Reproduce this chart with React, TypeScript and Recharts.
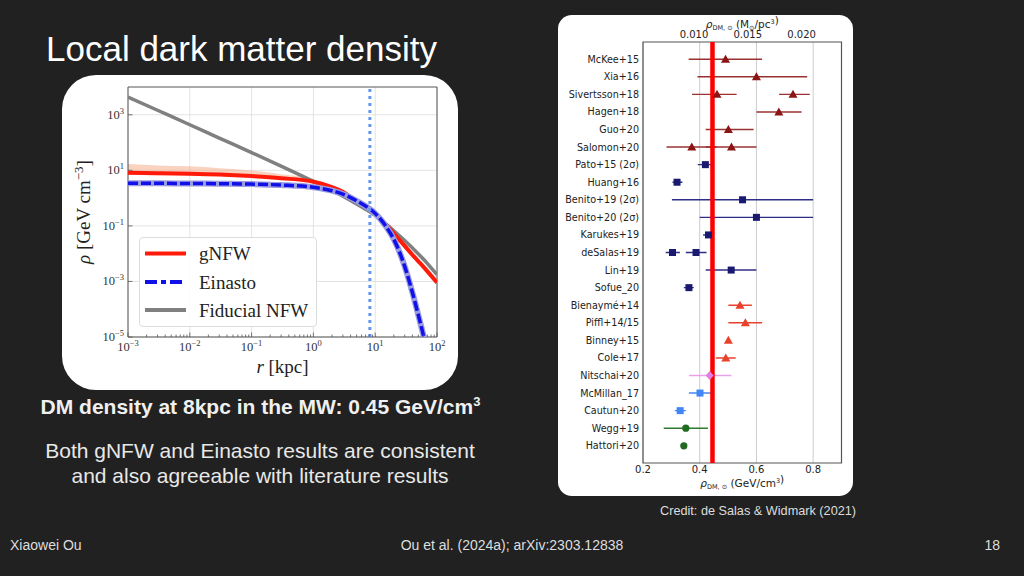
import React from 'react';
import {
  ComposedChart, Line, Area, XAxis, YAxis, CartesianGrid, ReferenceLine, ReferenceArea,
  ScatterChart, Scatter, ErrorBar,
} from 'recharts';

// left panel: density profiles, r in kpc, rho in GeV/cm^3
const radii = [0.001, 0.003, 0.01, 0.03, 0.1, 0.3, 1, 2, 3, 5, 8, 10, 15, 20, 30, 40, 50, 60, 70, 100];
const gnfwDensity = [8.2, 7.9, 7.6, 7.1, 6.2, 5.2, 3.9, 2.5, 1.7, 0.75, 0.42, 0.27, 0.11, 0.054, 0.019, 0.0091, 0.0053, 0.0034, 0.0023, 0.00091];
const gnfwBandLow = [6.8, 6.7, 6.6, 6.3, 5.7, 4.9, 3.75, 2.4, 1.65, 0.72];
const gnfwBandHigh = [17, 15, 14, 12, 9.8, 7.3, 4.9, 2.8, 1.85, 0.8];
const einastoDensity = [3.4, 3.4, 3.35, 3.3, 3.2, 2.95, 2.45, 1.85, 1.4, 0.8, 0.42, 0.28, 0.095, 0.033, 0.0035, 0.0004, 0.00006, 0.000012, 0.0000026, null];
const nfwDensity = [4370, 1456, 437, 145, 43.5, 14.2, 4.0, 1.87, 1.16, 0.61, 0.33, 0.24, 0.115, 0.067, 0.030, 0.016, 0.0097, 0.0064, 0.0044, 0.00175];
const sunRadius = 8.2;
const xTicks = [0.001, 0.01, 0.1, 1, 10, 100];
const yTicks = [1e-5, 1e-3, 1e-1, 10, 1000];
// minor log ticks 2..9 within each decade
const xMinorTicks = [-3, -2, -1, 0, 1].flatMap((k) => [2, 3, 4, 5, 6, 7, 8, 9].map((m) => m * 10 ** k));

// right panel: literature values of local DM density (GeV/cm^3): [study, value, low, high]
const studies = [
  'McKee+15', 'Xia+16', 'Sivertsson+18', 'Hagen+18', 'Guo+20', 'Salomon+20',
  'Pato+15 (2σ)', 'Huang+16', 'Benito+19 (2σ)', 'Benito+20 (2σ)', 'Karukes+19',
  'deSalas+19', 'Lin+19', 'Sofue_20', 'Bienaymé+14', 'Piffl+14/15', 'Binney+15',
  'Cole+17', 'Nitschai+20', 'McMillan_17', 'Cautun+20', 'Wegg+19', 'Hattori+20',
];
const verticalStudies = [
  ['McKee+15', 0.491, 0.361, 0.620], ['Xia+16', 0.600, 0.392, 0.779],
  ['Sivertsson+18', 0.461, 0.373, 0.530], ['Sivertsson+18', 0.729, 0.680, 0.788],
  ['Hagen+18', 0.679, 0.600, 0.759], ['Guo+20', 0.501, 0.421, 0.590],
  ['Salomon+20', 0.372, 0.283, 0.459], ['Salomon+20', 0.512, 0.421, 0.600],
];
const rotationCurves = [
  ['Pato+15 (2σ)', 0.420, 0.393, 0.450], ['Huang+16', 0.320, 0.304, 0.339],
  ['Benito+19 (2σ)', 0.551, 0.302, 0.800], ['Benito+20 (2σ)', 0.600, 0.400, 0.800],
  ['Karukes+19', 0.431, 0.412, 0.450], ['deSalas+19', 0.304, 0.280, 0.330],
  ['deSalas+19', 0.387, 0.351, 0.424], ['Lin+19', 0.511, 0.421, 0.600],
  ['Sofue_20', 0.362, 0.344, 0.379],
];
const haloModels = [
  ['Bienaymé+14', 0.542, 0.501, 0.584], ['Piffl+14/15', 0.561, 0.501, 0.620],
  ['Binney+15', 0.501, 0.501, 0.501], ['Cole+17', 0.492, 0.457, 0.527],
];
const streamFits = [['Nitschai+20', 0.435, 0.362, 0.512]];
const massModels = [['McMillan_17', 0.401, 0.362, 0.441], ['Cautun+20', 0.331, 0.312, 0.351]];
const gasKinematics = [['Wegg+19', 0.351, 0.273, 0.429], ['Hattori+20', 0.344, 0.344, 0.344]];
const thisWork = 0.445;
const bottomTicks = [0.2, 0.4, 0.6, 0.8];
const topTicksMsun = [0.010, 0.015, 0.020];
const GEV_PER_MSUN_PC3 = 37.97;

const profileRows = radii.map((r, i) => ({
  r,
  gnfw: gnfwDensity[i],
  nfw: nfwDensity[i],
  einasto: einastoDensity[i],
  band: gnfwBandLow[i] != null ? [gnfwBandLow[i], gnfwBandHigh[i]] : null,
}));

const toPoints = (list: any[]) =>
  list.map(([name, v, lo, hi]) => ({ x: v, y: studies.indexOf(name), err: [v - lo, hi - v] }));

const SERIF = '"Liberation Serif", "DejaVu Serif", serif';
const SANS = '"DejaVu Sans", sans-serif';

const expText = (v: number) => {
  const e = Math.round(Math.log10(v));
  return e < 0 ? '\u2212' + Math.abs(e) : String(e);
};
const isDecade = (v: number) => Math.abs(Math.log10(v) - Math.round(Math.log10(v))) < 1e-6;

// tick label plus an inward matplotlib-style tick mark (axis line sits 4px above the label anchor)
const LogTickX = ({ x, y, payload }: any) => {
  const major = isDecade(payload.value);
  return (
    <g>
      <line x1={x} x2={x} y1={y - 4} y2={y - 4 - (major ? 4.5 : 2.5)} stroke="#555" strokeWidth={0.8} />
      {major && (
        <text x={x} y={y + 10} textAnchor="middle" fontFamily={SERIF} fontSize={12.5} fill="#333">
          <tspan>10</tspan>
          <tspan dy={-5} fontSize={8.5}>{expText(payload.value)}</tspan>
        </text>
      )}
    </g>
  );
};

const LogTickY = ({ x, y, payload }: any) => (
  <g>
    <line x1={x + 4} x2={x + 8.5} y1={y} y2={y} stroke="#555" strokeWidth={0.8} />
    <text x={x} y={y + 4} textAnchor="end" fontFamily={SERIF} fontSize={12.5} fill="#333">
      <tspan>10</tspan>
      <tspan dy={-5} fontSize={8.5}>{expText(payload.value)}</tspan>
    </text>
  </g>
);

const StudyTick = ({ x, y, payload }: any) => (
  <text x={x} y={y + 3.5} textAnchor="end" fontFamily={SANS} fontSize={9.6} fill="#222">
    {studies[payload.value]}
  </text>
);

const triangle = (fill: string) => (p: any) => (
  <polygon points={`${p.cx},${p.cy - 4.5} ${p.cx - 4.5},${p.cy + 3.5} ${p.cx + 4.5},${p.cy + 3.5}`} fill={fill} />
);
const square = (fill: string) => (p: any) => (
  <rect x={p.cx - 3.5} y={p.cy - 3.5} width={7} height={7} fill={fill} />
);
const circle = (fill: string) => (p: any) => <circle cx={p.cx} cy={p.cy} r={3.6} fill={fill} />;
const diamond = (fill: string) => (p: any) => (
  <polygon points={`${p.cx},${p.cy - 4.5} ${p.cx - 4},${p.cy} ${p.cx},${p.cy + 4.5} ${p.cx + 4},${p.cy}`} fill={fill} />
);

function ProfileChart() {
  const allXTicks = [...xTicks, ...xMinorTicks].sort((a, b) => a - b);
  return (
    <ComposedChart width={396} height={315} data={profileRows} margin={{ top: 12, right: 21, bottom: 0, left: 0 }}>
      <CartesianGrid stroke="#dcdcdc" strokeWidth={0.8} verticalValues={xTicks} horizontalValues={yTicks} />
      <XAxis
        dataKey="r" type="number" scale="log" domain={[0.001, 100]} ticks={allXTicks} interval={0}
        allowDataOverflow height={53} tickLine={false} axisLine={false} tickSize={0} tickMargin={4}
        tick={LogTickX}
        label={({ viewBox }: any) => (
          <text x={viewBox.x + viewBox.width / 2} y={viewBox.y + 36} textAnchor="middle" fontFamily={SERIF} fontSize={19} fill="#222">
            <tspan fontStyle="italic">r</tspan> [kpc]
          </text>
        )}
      />
      <YAxis
        type="number" scale="log" domain={[1e-5, 1e4]} ticks={yTicks} interval={0}
        allowDataOverflow width={66} tickLine={false} axisLine={false} tickSize={0} tickMargin={4}
        tick={LogTickY}
        label={({ viewBox }: any) => {
          const lx = viewBox.x + 28;
          const ly = viewBox.y + viewBox.height / 2;
          return (
            <text x={lx} y={ly} transform={`rotate(-90, ${lx}, ${ly})`} textAnchor="middle" fontFamily={SERIF} fontSize={19} fill="#222">
              <tspan fontStyle="italic">ρ</tspan> [GeV cm<tspan dy={-7} fontSize={13}>−3</tspan><tspan dy={7}>]</tspan>
            </text>
          );
        }}
      />
      <Area dataKey="band" type="monotone" stroke="none" fill="#f4a582" fillOpacity={0.5} isAnimationActive={false} />
      <Line dataKey="nfw" type="monotone" stroke="#808080" strokeWidth={3.5} dot={false} isAnimationActive={false} />
      <Line dataKey="gnfw" type="monotone" stroke="#ff1a0a" strokeWidth={4} dot={false} isAnimationActive={false} />
      <Line dataKey="einasto" type="monotone" stroke="#9c9ce0" strokeWidth={6} dot={false} isAnimationActive={false} />
      <Line dataKey="einasto" type="monotone" stroke="#1010e8" strokeWidth={3.5} strokeDasharray="10 3" dot={false} isAnimationActive={false} />
      <ReferenceLine x={sunRadius} stroke="#6495ed" strokeWidth={3} strokeDasharray="3 4" />
      <ReferenceArea x1={0.001} x2={100} y1={1e-5} y2={1e4} fill="none" stroke="#555" strokeWidth={1} />
    </ComposedChart>
  );
}

function ProfileLegend() {
  const rows = [
    { label: 'gNFW', y: 16.5, color: '#ff1a0a', dash: undefined },
    { label: 'Einasto', y: 45, color: '#1010e8', dash: '12 4 5 4' },
    { label: 'Fiducial NFW', y: 73, color: '#808080', dash: undefined },
  ];
  return (
    <div style={{ position: 'absolute', left: 77, top: 162, width: 178, height: 90, border: '1px solid #dcdcdc', borderRadius: 4, background: 'rgba(255,255,255,0.9)', boxSizing: 'border-box' }}>
      <svg width={178} height={90} style={{ position: 'absolute', left: -1, top: -1 }}>
        {rows.map((row) => (
          <g key={row.label}>
            <line x1={6} x2={47} y1={row.y} y2={row.y} stroke={row.color} strokeWidth={4} strokeDasharray={row.dash} />
            <text x={60} y={row.y + 6.5} fontFamily={SERIF} fontSize={19} fill="#222">{row.label}</text>
          </g>
        ))}
      </svg>
    </div>
  );
}

const rhoLabel = (y: number, unit: React.ReactNode, cx: number) => (
  <text x={cx} y={y} textAnchor="middle" fontFamily={SANS} fontSize={10.5} fill="#222">
    <tspan fontStyle="italic">ρ</tspan>
    <tspan fontSize={6.5} dy={2}>DM, ⊙</tspan>
    <tspan dy={-2}> (</tspan>
    {unit}
    <tspan>)</tspan>
  </text>
);

function LiteratureChart() {
  const groups = [
    { data: toPoints(verticalStudies), color: '#8b1414', bar: '#9a3030', shape: triangle('#8b1414') },
    { data: toPoints(rotationCurves), color: '#191970', bar: '#2e2e86', shape: square('#191970') },
    { data: toPoints(haloModels), color: '#e8412c', bar: '#e8412c', shape: triangle('#e8412c') },
    { data: toPoints(streamFits), color: '#e47ee4', bar: '#eaa0ea', shape: diamond('#e47ee4') },
    { data: toPoints(massModels), color: '#4285f4', bar: '#4285f4', shape: square('#4285f4') },
    { data: toPoints(gasKinematics), color: '#1f6b1f', bar: '#2f7a2f', shape: circle('#1f6b1f') },
  ];
  return (
    <ScatterChart width={295} height={481} margin={{ top: 0, right: 11.5, bottom: 0, left: 0 }}>
      <CartesianGrid xAxisId="b" horizontal={false} stroke="#cccccc" strokeWidth={1} />
      <XAxis
        xAxisId="t" orientation="top" dataKey="x" type="number" domain={[0.2, 0.9]} allowDataOverflow
        ticks={topTicksMsun.map((m) => m * GEV_PER_MSUN_PC3)}
        tickFormatter={(v: number) => (v / GEV_PER_MSUN_PC3).toFixed(3)}
        height={27} tickLine={false} axisLine={false} tickSize={0} tickMargin={4}
        tick={{ fontFamily: SANS, fontSize: 10, fill: '#222' }}
        label={({ viewBox }: any) =>
          rhoLabel(viewBox.y + 12.5, <>
            <tspan>M</tspan><tspan fontSize={6.5} dy={2}>⊙</tspan>
            <tspan dy={-2}>/pc</tspan><tspan fontSize={6.5} dy={-3.5}>3</tspan><tspan dy={3.5}></tspan>
          </>, viewBox.x + viewBox.width / 2)
        }
      />
      <XAxis
        xAxisId="b" dataKey="x" type="number" domain={[0.2, 0.9]} allowDataOverflow ticks={bottomTicks}
        height={33} tickLine={false} axisLine={false} tickSize={0} tickMargin={3}
        tick={{ fontFamily: SANS, fontSize: 10, fill: '#222' }}
        label={({ viewBox }: any) =>
          rhoLabel(viewBox.y + 23.7, <>
            <tspan>GeV/cm</tspan><tspan fontSize={6.5} dy={-4}>3</tspan><tspan dy={4}></tspan>
          </>, viewBox.x + viewBox.width / 2)
        }
      />
      <YAxis
        dataKey="y" type="number" domain={[-0.98, 22.98]} reversed allowDataOverflow
        ticks={studies.map((_, i) => i)} interval={0}
        width={85} tickLine={false} axisLine={false} tickSize={0} tickMargin={4}
        tick={StudyTick}
      />
      {groups.map((g, i) => (
        <Scatter key={i} xAxisId="b" data={g.data} fill={g.color} shape={g.shape} isAnimationActive={false}>
          <ErrorBar dataKey="err" direction="x" width={0} stroke={g.bar} strokeWidth={1.4} />
        </Scatter>
      ))}
      <ReferenceLine xAxisId="b" x={thisWork} stroke="#ff0000" strokeWidth={4.5} />
      <ReferenceArea xAxisId="b" x1={0.2} x2={0.9} y1={-0.98} y2={22.98} fill="none" stroke="#555" strokeWidth={1.2} />
    </ScatterChart>
  );
}

export default function App() {
  const text = '"Liberation Sans", Arial, Helvetica, sans-serif';
  return (
    <div style={{ position: 'absolute', left: 0, top: 0, width: 1024, height: 576, background: '#212121', overflow: 'hidden' }}>
      <svg width={1024} height={576} style={{ position: 'absolute', left: 0, top: 0 }} fontFamily={text}>
        <text x={46} y={61} fontSize={35} fill="#ffffff">Local dark matter density</text>
        <text x={260.5} y={414} textAnchor="middle" fontSize={21} fontWeight="bold" fill="#f0f0f0">
          DM density at 8kpc in the MW: 0.45 GeV/cm<tspan dy={-8} fontSize={13}>3</tspan>
        </text>
        <text x={260} y={458} textAnchor="middle" fontSize={21} fill="#e8e8e8">Both gNFW and Einasto results are consistent</text>
        <text x={260} y={483} textAnchor="middle" fontSize={21} fill="#e8e8e8">and also agreeable with literature results</text>
        <text x={660} y={515} fontSize={12.7} fill="#dddddd">Credit: de Salas &amp; Widmark (2021)</text>
        <text x={10} y={550} fontSize={14} fill="#dddddd">Xiaowei Ou</text>
        <text x={512} y={550} textAnchor="middle" fontSize={14} fill="#dddddd">Ou et al. (2024a); arXiv:2303.12838</text>
        <text x={1000} y={550} textAnchor="end" fontSize={14} fill="#dddddd">18</text>
      </svg>
      <div style={{ position: 'absolute', left: 62, top: 75, width: 396, height: 315, background: '#fff', borderRadius: 34, overflow: 'hidden' }}>
        <ProfileChart />
        <ProfileLegend />
      </div>
      <div style={{ position: 'absolute', left: 558, top: 15, width: 295, height: 481, background: '#fff', borderRadius: 14, overflow: 'hidden' }}>
        <LiteratureChart />
      </div>
    </div>
  );
}
